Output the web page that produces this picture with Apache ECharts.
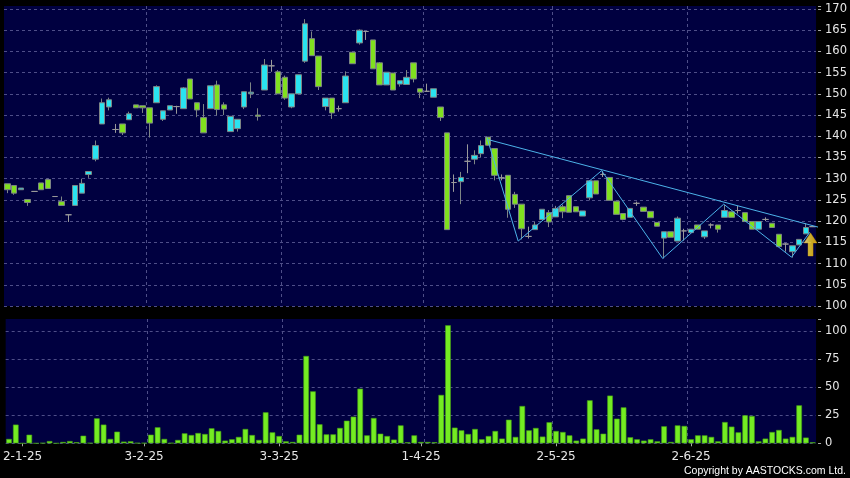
<!DOCTYPE html>
<html><head><meta charset="utf-8">
<script src="https://cdn.jsdelivr.net/npm/echarts@6/dist/echarts.min.js"></script>
<style>html,body{margin:0;padding:0;background:#000;}#c{width:850px;height:478px;}</style>
</head><body><div id="c"></div>
<script>
const dates = ['27-12-24','30-12-24','31-12-24',
'2-1-25','3-1-25','6-1-25','7-1-25','8-1-25','9-1-25','10-1-25','13-1-25','14-1-25','15-1-25','16-1-25','17-1-25','20-1-25','21-1-25','22-1-25','23-1-25','24-1-25','27-1-25',
'3-2-25','4-2-25','5-2-25','6-2-25','7-2-25','10-2-25','11-2-25','12-2-25','13-2-25','14-2-25','17-2-25','18-2-25','19-2-25','20-2-25','21-2-25','24-2-25','25-2-25','26-2-25','27-2-25','28-2-25',
'3-3-25','4-3-25','5-3-25','6-3-25','7-3-25','10-3-25','11-3-25','12-3-25','13-3-25','14-3-25','17-3-25','18-3-25','19-3-25','20-3-25','21-3-25','24-3-25','25-3-25','26-3-25','27-3-25','28-3-25','31-3-25',
'1-4-25','2-4-25','3-4-25','7-4-25','8-4-25','9-4-25','10-4-25','11-4-25','14-4-25','15-4-25','16-4-25','17-4-25','22-4-25','23-4-25','24-4-25','25-4-25','28-4-25','29-4-25','30-4-25',
'2-5-25','6-5-25','7-5-25','8-5-25','9-5-25','12-5-25','13-5-25','14-5-25','15-5-25','16-5-25','19-5-25','20-5-25','21-5-25','22-5-25','23-5-25','26-5-25','27-5-25','28-5-25','29-5-25','30-5-25',
'2-6-25','3-6-25','4-6-25','5-6-25','6-6-25','9-6-25','10-6-25','11-6-25','12-6-25','13-6-25','16-6-25','17-6-25','18-6-25','19-6-25','20-6-25','23-6-25','24-6-25','25-6-25','26-6-25'];

const opens = [128.8,128.4,127.4,125.1,127.0,129.0,129.8,125.8,124.6,121.5,
123.7,126.6,131.0,134.6,142.9,146.9,141.6,142.9,143.9,147.4,
147.2,146.7,147.9,144.0,146.2,147.0,146.5,153.5,147.9,144.4,
146.5,152.1,147.4,141.1,141.8,146.9,150.0,145.0,150.9,156.6,
155.2,153.9,146.9,150.0,157.7,163.0,158.9,147.0,149.0,146.5,
147.9,159.8,162.0,164.7,162.7,157.3,152.1,154.9,152.3,152.2,
157.3,151.2,150.6,149.2,146.9,140.8,129.1,129.3,134.1,134.6,
135.9,139.8,137.1,130.2,130.8,126.3,124.0,116.4,118.0,120.4,
122.0,121.0,123.4,126.0,123.4,121.2,125.5,129.5,131.0,130.3,
124.7,121.8,120.9,124.2,123.3,122.3,119.7,116.0,117.5,115.3,
117.7,117.3,119.1,116.3,119.1,119.1,120.9,122.2,122.5,122.0,
119.9,118.1,120.4,119.5,116.9,114.6,112.8,114.4,117.0,118.7];
const closes = [127.4,126.6,127.8,124.4,127.0,127.4,127.7,125.8,123.7,121.5,
128.4,128.9,131.7,137.8,147.9,148.6,141.6,140.8,145.3,146.7,
146.7,143.1,151.7,146.0,147.2,147.0,151.4,148.8,146.2,140.8,
151.9,146.3,146.4,144.7,144.0,150.5,150.4,144.7,156.8,156.6,
150.0,149.0,150.0,154.5,166.5,159.0,151.7,149.0,145.5,146.5,
154.2,157.1,165.0,164.7,155.9,152.1,155.1,150.9,153.1,153.9,
153.5,150.4,150.6,151.2,144.4,118.0,129.1,130.3,134.1,135.5,
137.8,137.9,130.8,130.2,122.8,124.0,118.2,116.4,119.1,122.8,
119.8,123.0,122.2,122.1,122.2,122.4,129.5,126.4,131.0,124.9,
121.6,120.4,123.0,124.2,122.3,120.8,118.8,117.5,116.2,120.7,
117.7,118.1,118.1,117.7,119.1,118.1,122.5,120.9,122.5,119.9,
118.1,119.9,120.4,118.5,114.0,114.6,114.2,115.7,118.5,118.7];
const lows = [126.6,126.2,127.4,123.6,127.0,127.4,127.7,125.8,123.7,119.8,
123.7,126.6,130.2,134.1,142.9,146.1,140.8,140.3,143.9,146.7,
145.5,139.7,147.9,143.6,146.2,145.3,146.5,148.8,144.5,140.8,
146.5,144.9,145.0,141.1,141.1,146.4,149.0,143.7,150.9,155.2,
150.0,148.6,146.6,150.0,157.3,159.0,150.9,146.1,144.1,145.8,
147.9,157.1,161.6,162.7,155.9,152.1,152.1,150.9,151.7,152.2,
152.7,149.0,150.6,149.2,143.6,118.0,126.9,124.0,131.3,133.4,
135.1,137.8,129.6,129.6,120.8,123.1,115.7,115.9,118.0,120.4,
118.6,121.0,120.7,122.1,122.2,121.2,124.9,126.4,130.4,124.9,
121.6,120.2,120.9,123.6,122.3,120.8,118.8,111.2,116.2,115.3,
115.4,117.1,118.1,115.8,118.3,117.3,120.9,120.9,121.8,119.9,
118.1,118.1,120.0,118.5,114.0,112.8,111.4,114.4,117.0,118.7];
const highs = [128.8,128.4,127.8,125.1,127.0,129.0,130.0,125.8,125.8,121.5,
128.4,130.0,131.7,139.0,148.9,149.1,142.9,142.9,145.8,147.4,
147.2,146.7,152.0,146.0,147.2,147.2,151.6,153.5,147.9,147.6,
151.9,153.1,148.0,144.7,144.0,150.5,152.7,146.6,158.2,158.0,
155.6,154.3,150.0,154.5,167.6,164.7,158.9,149.0,149.0,147.2,
155.3,159.8,165.2,164.7,162.7,157.5,155.1,154.9,153.1,155.6,
157.3,151.2,152.4,151.2,146.9,140.8,131.0,131.6,138.1,136.7,
139.0,139.8,137.1,131.0,130.8,126.9,124.0,118.7,119.8,122.8,
122.6,123.6,123.9,126.0,123.4,122.4,129.5,129.5,131.8,130.3,
124.7,121.8,123.0,124.6,123.3,122.3,119.7,117.5,117.5,121.1,
118.2,118.1,119.1,117.7,119.5,119.1,123.8,122.2,123.6,122.0,
119.9,119.9,120.9,119.5,116.9,114.8,114.2,115.7,119.5,118.7];
const volumes = [3.9,16.7,0,7.7,0,0.3,2.0,0,1.2,2.0,
1.0,6.8,0.3,22.3,16.7,3.9,10.4,1.5,1.8,0.3,
0.3,7.7,14.3,3.9,0.3,3.0,8.9,7.4,9.2,8.3,
13.4,11.0,2.4,3.6,5.7,12.8,7.4,3.0,27.7,9.8,
6.5,1.8,1.2,7.7,78.0,46.4,17.0,8.0,8.0,13.7,
20.2,23.8,48.8,7.1,22.6,8.6,6.5,3.3,16.0,0.9,
7.1,1.2,1.2,1.0,43.2,105.4,14.0,11.6,8.3,12.8,
3.6,6.5,11.0,4.2,21.1,5.7,33.3,11.6,13.7,6.0,
18.8,11.0,10.1,7.1,2.4,4.2,38.4,12.5,8.6,42.6,
22.0,32.1,5.4,3.6,2.4,3.6,1.8,15.2,1.2,16.0,
15.5,3.6,7.1,7.1,5.7,1.8,19.0,14.9,9.8,25.0,
24.4,1.8,4.2,10.1,11.9,4.2,5.7,33.9,5.1,0.9];

const labelIdx = [2, 20, 40, 61, 81, 101];
const labelText = ['2-1-25', '3-2-25', '3-3-25', '1-4-25', '2-5-25', '2-6-25'];
const gridIdx = [3, 21, 41, 62, 81, 101];
const priceTicks = {min: 100, max: 170.7, step: 5};
const volTicks = {min: 0, max: 111, step: 25};
const slotRange = {min: -0.5, max: 119.5};
const resistance = [[70.9, 139.2], [119.5, 118.6]];
const zigzag = [[70.7, 139.7], [75.3, 115.3], [87.6, 131.9], [96.6, 111.2], [105.6, 124.0], [115.6, 111.5], [118.3, 117.4]];
const arrowPt = [[118.4, 114.5]];

const candleData = opens.map((o, i) => [o, closes[i], lows[i], highs[i]]);
const GRID = '#4e4e88';
const LBL = '#e6e6e6';
const FONT = 'DejaVu Sans';
const OFF = {show: false};

const chart = echarts.init(document.getElementById('c'), null, {renderer: 'canvas'});
const splitX = {
  show: true,
  interval: (idx) => gridIdx.indexOf(idx) >= 0,
  showMinLine: false, showMaxLine: false,
  lineStyle: {color: GRID, type: [3, 3], width: 1}
};
const isTick = (v, step) => Math.abs(v / step - Math.round(v / step)) < 1e-6;
const yLabel = (step) => ({
  color: LBL, fontFamily: FONT, fontSize: 11.5, margin: 7,
  formatter: (v) => (isTick(v, step) ? String(v) : '')
});
chart.setOption({
  backgroundColor: '#000000',
  animation: false,
  grid: [
    {left: 4, right: 32, top: 6, height: 300, show: true, backgroundColor: '#000040', borderWidth: 0},
    {left: 4, right: 32, top: 319, height: 124.3, show: true, backgroundColor: '#000040', borderWidth: 0},
    {left: 4, right: 32, top: 6, height: 300, show: false}
  ],
  xAxis: [
    {type: 'category', gridIndex: 0, data: dates, boundaryGap: true,
     axisLine: OFF, axisTick: OFF, axisLabel: OFF, splitLine: splitX},
    {type: 'category', gridIndex: 1, data: dates, boundaryGap: true, offset: 3,
     axisLine: OFF,
     axisTick: {show: true, alignWithLabel: true, length: 3, interval: (idx) => labelIdx.indexOf(idx) >= 0,
                lineStyle: {color: '#aaaaaa'}},
     axisLabel: {interval: (idx) => labelIdx.indexOf(idx) >= 0, color: LBL, fontFamily: FONT, fontSize: 12, margin: 5,
                 formatter: (v, idx) => labelText[labelIdx.indexOf(idx)] || ''},
     splitLine: splitX},
    {type: 'value', gridIndex: 2, min: slotRange.min, max: slotRange.max, show: false,
     axisLine: OFF, axisTick: OFF, axisLabel: OFF, splitLine: OFF}
  ],
  yAxis: [
    {type: 'value', gridIndex: 0, position: 'right', offset: 2, min: priceTicks.min, max: priceTicks.max, interval: priceTicks.step,
     axisLine: OFF,
     axisTick: {show: true, length: 3, lineStyle: {color: '#aaaaaa'}},
     axisLabel: yLabel(priceTicks.step),
     splitLine: {show: true, showMaxLine: false, lineStyle: {color: GRID, type: [3, 3]}}},
    {type: 'value', gridIndex: 1, position: 'right', offset: 2, min: volTicks.min, max: volTicks.max, interval: volTicks.step,
     axisLine: OFF,
     axisTick: {show: true, length: 3, lineStyle: {color: '#aaaaaa'}},
     axisLabel: yLabel(volTicks.step),
     splitLine: {show: true, showMaxLine: false, lineStyle: {color: GRID, type: [3, 3]}}},
    {type: 'value', gridIndex: 2, min: priceTicks.min, max: priceTicks.max, show: false,
     axisLine: OFF, axisTick: OFF, axisLabel: OFF, splitLine: OFF}
  ],
  series: [
    {type: 'candlestick', xAxisIndex: 0, yAxisIndex: 0, data: candleData, barWidth: 6,
     itemStyle: {color: '#2ae3f0', color0: '#80e01f', borderColor: '#7d8585', borderColor0: '#7d8585',
                 borderColorDoji: '#9a9a9a', borderWidth: 1}},
    {type: 'bar', xAxisIndex: 1, yAxisIndex: 1, data: volumes, barWidth: 5.6,
     itemStyle: {color: '#74ec22', borderColor: '#44a014', borderWidth: 0.6}},
    {type: 'line', xAxisIndex: 2, yAxisIndex: 2, data: resistance, symbol: 'none', silent: true,
     lineStyle: {color: '#4cb2e8', width: 1}},
    {type: 'line', xAxisIndex: 2, yAxisIndex: 2, data: zigzag, symbol: 'none', silent: true,
     lineStyle: {color: '#4cb2e8', width: 1}},
    {type: 'scatter', xAxisIndex: 2, yAxisIndex: 2, data: arrowPt, silent: true,
     symbol: 'path://M6.5,0 L13,10 L9,10 L9,23 L4,23 L4,10 L0,10 Z', symbolSize: [13, 23], symbolKeepAspect: false,
     itemStyle: {color: new echarts.graphic.LinearGradient(0, 0, 1, 0, [
       {offset: 0, color: '#fff8c0'}, {offset: 0.4, color: '#ffe030'}, {offset: 1, color: '#f5b800'}]),
       borderColor: '#d9a000', borderWidth: 0.5}}
  ],
  graphic: [
    {type: 'text', right: 4, bottom: 1,
     style: {text: 'Copyright by AASTOCKS.com Ltd.', fill: '#ffffff', font: '10.5px "Liberation Sans", Arial, sans-serif'}}
  ]
});
</script></body></html>
